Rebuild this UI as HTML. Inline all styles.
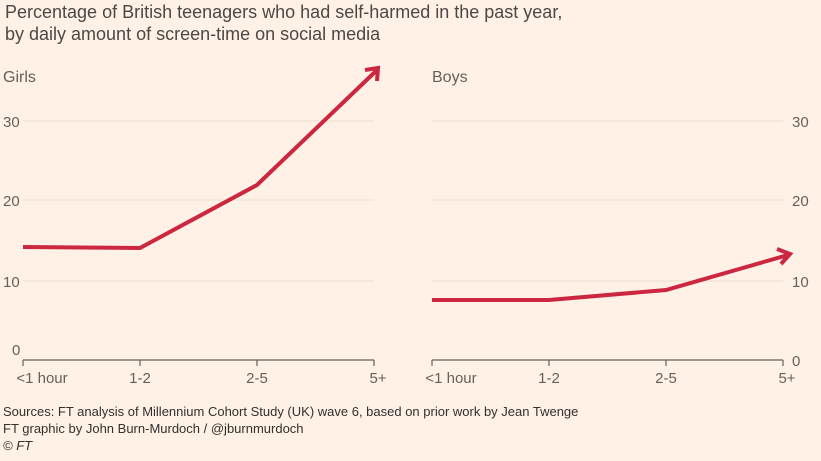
<!DOCTYPE html>
<html><head><style>
body{margin:0;width:821px;height:456px;background:#fff1e5;font-family:"Liberation Sans",sans-serif;overflow:hidden}
</style></head><body>
<svg width="821" height="456" xmlns="http://www.w3.org/2000/svg" font-family="Liberation Sans, sans-serif">
<rect width="821" height="456" fill="#fff1e5"/>
<text x="5" y="18" font-size="18" fill="#4d4845">Percentage of British teenagers who had self-harmed in the past year,</text>
<text x="5" y="40" font-size="18" fill="#4d4845">by daily amount of screen-time on social media</text>
<text x="3" y="82" font-size="16" fill="#66605c">Girls</text>
<text x="432" y="82" font-size="16" fill="#66605c">Boys</text>
<g stroke="#e9ded3" stroke-width="1">
<line x1="23" y1="121" x2="374" y2="121"/><line x1="23" y1="200" x2="374" y2="200"/><line x1="23" y1="281" x2="374" y2="281"/>
<line x1="432" y1="121" x2="783" y2="121"/><line x1="432" y1="200" x2="783" y2="200"/><line x1="432" y1="281" x2="783" y2="281"/>
</g>
<g stroke="#66605c" stroke-width="1.2" fill="none">
<line x1="23" y1="360" x2="374" y2="360"/>
<line x1="23" y1="360" x2="23" y2="366"/><line x1="140" y1="360" x2="140" y2="366"/><line x1="257" y1="360" x2="257" y2="366"/><line x1="374" y1="360" x2="374" y2="366"/>
<line x1="432" y1="360" x2="783" y2="360"/>
<line x1="432" y1="360" x2="432" y2="366"/><line x1="549" y1="360" x2="549" y2="366"/><line x1="666" y1="360" x2="666" y2="366"/><line x1="783" y1="360" x2="783" y2="366"/>
</g>
<g font-size="15" fill="#66605c">
<text x="3" y="127">30</text><text x="3" y="206">20</text><text x="3" y="287">10</text><text x="12" y="355">0</text>
<text x="792" y="127">30</text><text x="792" y="206">20</text><text x="792" y="287">10</text><text x="792" y="366">0</text>
<g text-anchor="middle">
<text x="42" y="383">&lt;1 hour</text><text x="140" y="383">1-2</text><text x="257" y="383">2-5</text><text x="378" y="383">5+</text>
<text x="451" y="383">&lt;1 hour</text><text x="549" y="383">1-2</text><text x="666" y="383">2-5</text><text x="787" y="383">5+</text>
</g></g>
<g stroke="#cc2740" stroke-width="4" fill="none" stroke-linejoin="miter">
<polyline points="23,247 140,248 257,185 376,71"/>
<polyline points="365,70 378,68 377,81"/>
<polyline points="432,300 549,300 666,290 788,255"/>
<polyline points="777,249 790,254 781,264"/>
</g>
<g font-size="13" fill="#33302e">
<text x="3" y="416">Sources: FT analysis of Millennium Cohort Study (UK) wave 6, based on prior work by Jean Twenge</text>
<text x="3" y="433">FT graphic by John Burn-Murdoch / @jburnmurdoch</text>
<text x="3" y="450" font-style="italic">© FT</text>
</g>
</svg>
</body></html>
